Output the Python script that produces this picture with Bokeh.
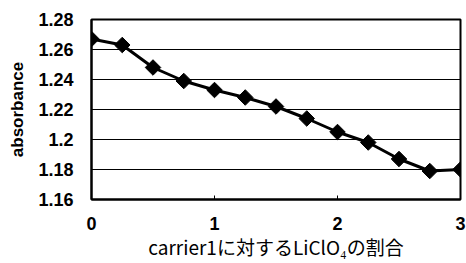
import numpy as np
from bokeh.plotting import figure
from bokeh.models import FixedTicker, Range1d
from bokeh.embed import file_html
from bokeh.resources import INLINE

ratio = [0, 0.25, 0.5, 0.75, 1.0, 1.25, 1.5, 1.75, 2.0, 2.25, 2.5, 2.75, 3.0]
absorbance = [1.267, 1.263, 1.248, 1.239, 1.233, 1.228, 1.222, 1.214, 1.205, 1.198, 1.187, 1.179, 1.180]
y_ticks = [1.16, 1.18, 1.20, 1.22, 1.24, 1.26, 1.28]
y_tick_labels = ["1.16", "1.18", "1.2", "1.22", "1.24", "1.26", "1.28"]
x_ticks = [0, 1, 2, 3]
x_tick_labels = ["0", "1", "2", "3"]

p = figure(width=466, height=263, output_backend="svg", toolbar_location=None,
           x_range=Range1d(0, 3), y_range=Range1d(1.16, 1.28),
           min_border_left=91, min_border_right=6, min_border_top=19, min_border_bottom=64)
p.background_fill_color = "white"
p.border_fill_color = "white"
p.outline_line_color = "black"
p.outline_line_width = 2

p.xgrid.grid_line_color = None
p.ygrid.grid_line_color = "black"
p.ygrid.grid_line_width = 1

p.line(ratio, absorbance, line_color="black", line_width=3)
p.scatter(ratio, absorbance, marker="square", angle=np.pi / 4, size=11,
          fill_color="black", line_color="black")

p.xaxis.ticker = FixedTicker(ticks=x_ticks)
p.xaxis.major_label_overrides = {t: l for t, l in zip(x_ticks, x_tick_labels)}
p.yaxis.ticker = FixedTicker(ticks=y_ticks)
p.yaxis.major_label_overrides = {t: l for t, l in zip(y_ticks, y_tick_labels)}

for ax in (p.xaxis[0], p.yaxis[0]):
    ax.axis_line_color = "black"
    ax.axis_line_width = 2
    ax.minor_tick_line_color = None
    ax.major_label_text_font = "Liberation Sans"
    ax.major_label_text_font_style = "bold"
    ax.major_label_text_font_size = "18px"
    ax.major_label_text_color = "black"
    ax.axis_label_text_color = "black"

p.xaxis.major_tick_in = 4
p.xaxis.major_tick_out = 0
p.xaxis.major_tick_line_width = 1
p.xaxis.major_label_standoff = 17
p.yaxis.major_tick_line_color = None
p.yaxis.major_label_standoff = 12

p.xaxis.axis_label = "carrier1に対するLiClO₄の割合"
p.xaxis.axis_label_text_font = "Noto Sans CJK JP"
p.xaxis.axis_label_text_font_style = "normal"
p.xaxis.axis_label_text_font_size = "19px"
p.xaxis.axis_label_standoff = 0

p.yaxis.axis_label = "absorbance"
p.yaxis.axis_label_text_font = "Liberation Sans"
p.yaxis.axis_label_text_font_style = "bold"
p.yaxis.axis_label_text_font_size = "17px"
p.yaxis.axis_label_standoff = 8

open("out.html", "w").write(file_html(p, INLINE))
